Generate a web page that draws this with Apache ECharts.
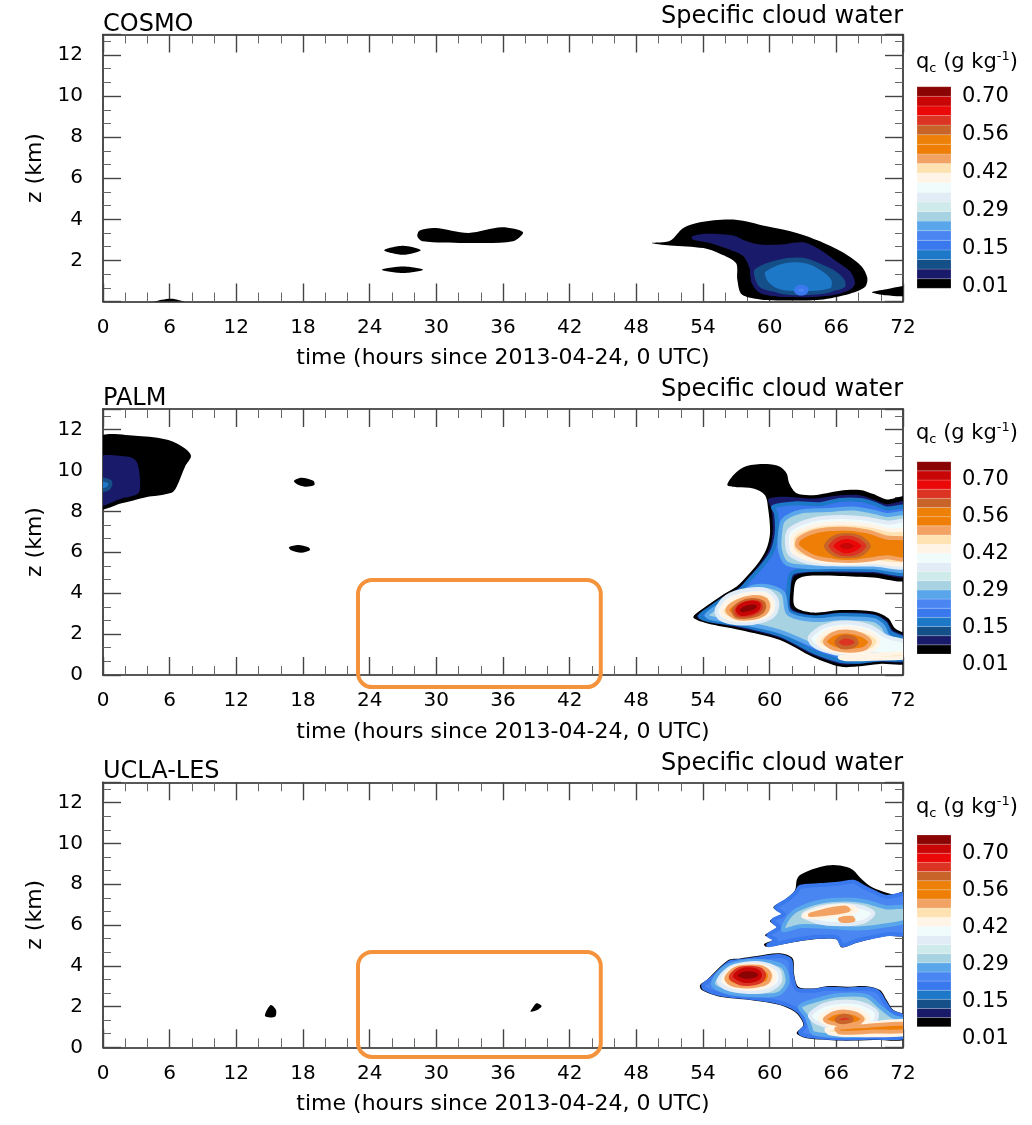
<!DOCTYPE html>
<html style="height: 100%">

<head>
	<meta charset="utf-8">
</head>

<body style="height: 100%; margin: 0; background: #ffffff">
	<div id="container" style="width: 1032px; height: 1125px"></div>
	<script type="text/javascript" src="https://cdn.jsdelivr.net/npm/echarts@6.0.0/dist/echarts.min.js"></script>
	<script type="text/javascript">
		// colour of each q_c band, bottom (0.01) to top (0.70+)
		let levelColors = ['#000000', '#1a1a6a', '#154f88', '#1e78c8', '#3a78ee', '#4a86f2', '#5aa6ea',
			'#a6d2e2', '#cfeaea', '#e2ecf6', '#f0fcfc', '#fff4e6', '#ffe2b2', '#f2a262', '#ee7e06',
			'#ec8008', '#c8642a', '#dc3422', '#ea0808', '#c80606', '#8a0404'];
		let levelLabels = ['0.01', '0.15', '0.29', '0.42', '0.56', '0.70'];
		let panelNames = ['COSMO', 'PALM', 'UCLA-LES'];

		// filled contour rings: lev = band index, pts = [time (h), z (km)]
		let cosmoRings = [
			{ lev: 0, pts: [[4.2, -0.1], [5.3, 0.08], [6.4, 0.12], [7.6, -0.1]] },
			{ lev: 0, pts: [[25.3, 2.5], [27.0, 2.72], [28.6, 2.5], [27.0, 2.28]] },
			{ lev: 0, pts: [[25.1, 1.55], [27.0, 1.71], [28.8, 1.55], [27.0, 1.39]] },
			{ lev: 0, pts: [[28.3, 3.17], [28.5, 3.46], [29.9, 3.58], [32.9, 3.34], [35.9, 3.61], [37.8, 3.37], [36.9, 2.93], [32.7, 2.85], [28.8, 2.93]] },
			{ lev: 0, pts: [[49.38, 2.85], [51.03, 2.96], [52.23, 3.58], [53.73, 3.86], [56.73, 3.99], [59.73, 3.66], [62.43, 3.34], [64.53, 2.93], [66.93, 2.28], [68.28, 1.71], [68.79, 1.14], [68.58, 0.70], [67.23, 0.38], [64.53, 0.08], [62.13, 0.05], [59.13, 0.1], [57.48, 0.35], [57.09, 1.06], [56.97, 1.87], [55.53, 2.33], [54.03, 2.60], [51.03, 2.73]] },
			{ lev: 1, pts: [[52.98, 3.17], [54.33, 3.30], [56.73, 3.21], [57.93, 2.93], [59.13, 2.77], [60.93, 2.77], [63.03, 2.88], [64.53, 2.52], [66.03, 1.95], [67.23, 1.47], [67.68, 0.90], [67.23, 0.57], [65.73, 0.33], [63.33, 0.21], [60.63, 0.25], [59.13, 0.41], [58.38, 0.90], [58.23, 1.55], [57.63, 2.20], [56.43, 2.52], [54.63, 2.85], [53.13, 3.01]] },
			{ lev: 2, pts: [[58.53, 1.63], [60.63, 2.12], [63.03, 2.23], [64.53, 1.95], [66.03, 1.55], [66.93, 1.06], [66.93, 0.65], [65.73, 0.41], [63.33, 0.33], [60.93, 0.33], [59.13, 0.57], [58.53, 1.06]] },
			{ lev: 3, pts: [[59.43, 1.47], [61.23, 1.95], [63.33, 1.95], [64.83, 1.55], [65.73, 1.06], [65.58, 0.57], [63.33, 0.41], [60.93, 0.49], [59.73, 0.90]] },
			{ lev: 5, pts: [[62.37, 0.54], [62.58, 0.70], [63.09, 0.70], [63.33, 0.57], [63.09, 0.41], [62.58, 0.41]] },
			{ lev: 0, pts: [[69.2, 0.45], [70.5, 0.6], [72.5, 0.75], [72.5, 0.3], [70.5, 0.3]] }
		];

		let palmRings = [
			{ lev: 0, pts: [[-0.5, 11.56], [3.18, 11.68], [5.88, 11.48], [7.38, 11.07], [7.92, 10.70], [7.38, 10.18], [6.63, 9.20], [6.18, 8.91], [3.78, 8.68], [1.68, 8.39], [-0.5, 8.14]] },
			{ lev: 1, pts: [[-0.5, 10.59], [2.28, 10.67], [3.03, 10.42], [3.33, 9.53], [3.18, 8.88], [1.68, 8.63], [-0.5, 8.30]] },
			{ lev: 3, pts: [[-0.5, 9.53], [0.63, 9.45], [0.48, 9.12], [-0.5, 9.04]] },
			{ lev: 0, pts: [[17.19, 9.49], [17.88, 9.64], [18.93, 9.49], [19.02, 9.28], [18.18, 9.20], [17.43, 9.33]] },
			{ lev: 0, pts: [[16.74, 6.24], [17.58, 6.35], [18.48, 6.24], [18.63, 6.11], [17.88, 5.98], [16.98, 6.08]] },
			{ lev: 0, pts: [[56.19, 9.28], [56.88, 9.85], [57.93, 10.21], [59.73, 10.31], [60.93, 10.18], [61.53, 9.85], [61.77, 9.36], [62.43, 8.88], [63.93, 8.79], [66.33, 9.01], [68.13, 9.04], [69.33, 8.84], [70.53, 8.58], [72.5, 8.68], [72.5, 4.72], [69.33, 4.77], [66.33, 4.84], [63.33, 4.84], [62.43, 4.64], [62.19, 4.15], [62.28, 3.34], [63.93, 3.05], [66.33, 3.18], [69.33, 3.10], [70.68, 2.77], [71.28, 2.28], [72.5, 1.87], [72.5, 0.61], [69.93, 0.54], [67.83, 0.41], [66.33, 0.41], [63.93, 0.87], [60.93, 1.71], [57.33, 2.20], [54.33, 2.53], [53.13, 2.82], [54.03, 3.26], [55.53, 3.83], [57.03, 4.32], [57.93, 4.81], [58.83, 5.37], [59.67, 6.11], [60.03, 6.92], [59.88, 8.06], [59.58, 8.79], [58.53, 9.12], [57.03, 9.17]] },
			{ lev: 1, pts: [[59.88, 8.58], [60.93, 8.71], [62.43, 8.68], [63.93, 8.63], [66.33, 8.79], [68.13, 8.79], [69.33, 8.58], [70.53, 8.35], [72.5, 8.42], [72.5, 4.89], [69.33, 4.97], [66.33, 5.00], [63.33, 5.00], [62.19, 4.81], [61.89, 4.15], [61.98, 3.26], [63.93, 2.93], [66.33, 3.05], [69.33, 2.98], [70.53, 2.66], [71.07, 2.20], [72.5, 1.79], [72.5, 0.70], [69.93, 0.65], [67.83, 0.54], [66.33, 0.54], [63.93, 0.98], [60.93, 1.81], [57.33, 2.30], [54.33, 2.61], [53.43, 2.85], [54.33, 3.26], [55.68, 3.78], [57.18, 4.24], [58.08, 4.76], [58.98, 5.33], [59.88, 6.06], [60.27, 6.92], [60.18, 8.06]] },
			{ lev: 4, pts: [[60.33, 8.22], [62.43, 8.39], [64.53, 8.35], [66.33, 8.55], [68.13, 8.55], [69.33, 8.39], [70.53, 8.14], [72.5, 8.14], [72.5, 5.05], [69.33, 5.13], [66.33, 5.16], [63.33, 5.13], [61.98, 4.97], [61.68, 4.15], [61.77, 3.14], [63.93, 2.82], [66.33, 2.93], [69.33, 2.85], [70.38, 2.53], [70.89, 2.07], [72.5, 1.63], [72.5, 0.82], [69.93, 0.77], [67.83, 0.65], [66.33, 0.70], [63.93, 1.14], [60.93, 1.96], [57.33, 2.45], [54.48, 2.69], [53.73, 2.88], [54.63, 3.26], [55.83, 3.70], [57.33, 4.15], [58.23, 4.68], [59.19, 5.25], [60.18, 5.98], [60.63, 6.92], [60.57, 7.90]] },
			{ lev: 7, pts: [[60.93, 6.92], [61.23, 7.57], [62.73, 7.98], [65.13, 8.06], [67.53, 8.14], [69.33, 7.98], [70.53, 7.82], [72.5, 7.82], [72.5, 5.21], [69.33, 5.26], [66.33, 5.28], [63.33, 5.28], [61.53, 5.45], [60.93, 6.11]] },
			{ lev: 7, pts: [[55.53, 3.42], [57.33, 3.96], [58.53, 4.32], [60.03, 4.32], [61.23, 3.99], [61.68, 3.01], [63.93, 2.69], [66.33, 2.77], [69.33, 2.69], [70.23, 2.36], [70.68, 1.87], [72.5, 1.47], [72.5, 0.93], [69.33, 0.90], [66.93, 0.90], [64.53, 1.30], [60.93, 2.12], [57.33, 2.56], [54.78, 2.77], [54.33, 2.93]] },
			{ lev: 10, pts: [[61.55, 6.60], [61.85, 7.12], [63.93, 7.60], [66.33, 7.72], [68.73, 7.64], [70.53, 7.45], [72.5, 7.45], [72.5, 5.36], [69.33, 5.40], [66.33, 5.40], [63.63, 5.50], [61.85, 5.90]] },
			{ lev: 10, pts: [[55.23, 3.18], [56.13, 3.83], [57.93, 4.15], [59.73, 4.15], [60.63, 3.67], [60.48, 3.01], [59.13, 2.61], [57.03, 2.53], [55.53, 2.77]] },
			{ lev: 10, pts: [[63.63, 1.87], [64.83, 2.36], [66.93, 2.56], [69.03, 2.36], [70.53, 1.87], [72.5, 1.55], [72.5, 0.98], [69.33, 1.03], [66.93, 0.98], [64.83, 1.22], [63.78, 1.55]] },
			{ lev: 12, pts: [[62.0, 6.3], [62.2, 6.85], [64.1, 7.3], [66.6, 7.42], [69.0, 7.3], [70.8, 7.08], [72.5, 7.0], [72.5, 5.5], [69.3, 5.52], [66.6, 5.47], [63.8, 5.62], [62.3, 5.95]] },
			{ lev: 12, pts: [[55.68, 3.18], [56.58, 3.70], [58.23, 3.96], [59.73, 3.91], [60.27, 3.50], [60.03, 3.01], [58.83, 2.72], [57.03, 2.69], [55.98, 2.85]] },
			{ lev: 12, pts: [[64.38, 1.71], [65.43, 2.17], [66.93, 2.28], [68.73, 2.12], [69.78, 1.71], [69.33, 1.26], [67.53, 1.09], [65.43, 1.22], [64.53, 1.47]] },
			{ lev: 12, pts: [[66.33, 0.87], [69.33, 0.98], [72.5, 1.06], [72.5, 0.87], [69.33, 0.80], [66.93, 0.77]] },
			{ lev: 14, pts: [[62.5, 6.3], [62.65, 6.65], [64.3, 7.05], [66.6, 7.15], [68.8, 7.02], [70.5, 6.72], [72.5, 6.6], [72.5, 5.68], [70.5, 5.75], [68.7, 5.62], [66.6, 5.58], [64.1, 5.75]] },
			{ lev: 14, pts: [[56.19, 3.18], [57.03, 3.58], [58.38, 3.80], [59.58, 3.70], [59.88, 3.34], [59.49, 2.98], [58.23, 2.77], [56.88, 2.82]] },
			{ lev: 14, pts: [[64.98, 1.63], [65.73, 2.01], [66.93, 2.12], [68.28, 1.96], [69.03, 1.63], [68.58, 1.30], [67.23, 1.19], [65.73, 1.30]] },
			{ lev: 16, pts: [[64.7, 6.3], [65.4, 6.82], [66.9, 6.95], [68.4, 6.8], [69.3, 6.3], [68.4, 5.82], [66.9, 5.72], [65.4, 5.84]] },
			{ lev: 17, pts: [[65.1, 6.30], [65.8, 6.72], [66.93, 6.84], [68.2, 6.7], [68.9, 6.30], [68.2, 5.9], [66.93, 5.8], [65.8, 5.9]] },
			{ lev: 17, pts: [[56.73, 3.14], [57.33, 3.50], [58.38, 3.67], [59.37, 3.54], [59.49, 3.26], [58.98, 2.98], [57.93, 2.85], [57.03, 2.88]] },
			{ lev: 17, pts: [[66.03, 1.63], [66.48, 1.84], [67.08, 1.87], [67.68, 1.75], [67.83, 1.55], [67.38, 1.39], [66.63, 1.35], [66.18, 1.47]] },
			{ lev: 18, pts: [[65.55, 6.30], [66.1, 6.62], [66.95, 6.72], [67.9, 6.6], [68.45, 6.30], [67.9, 6.0], [66.95, 5.9], [66.1, 6.0]] },
			{ lev: 18, pts: [[56.97, 3.14], [57.48, 3.44], [58.38, 3.57], [59.13, 3.50], [59.19, 3.26], [58.68, 3.05], [57.87, 2.93], [57.18, 2.95]] },
			{ lev: 19, pts: [[66.1, 6.30], [66.5, 6.5], [67.2, 6.53], [67.8, 6.32], [67.4, 6.1], [66.6, 6.07]] },
			{ lev: 20, pts: [[57.12, 3.18], [57.63, 3.44], [58.47, 3.54], [59.01, 3.44], [58.89, 3.21], [58.29, 3.05], [57.48, 2.98]] }
		];

		let uclaRings = [
			{ lev: 0, pts: [[15.09, 2.07], [15.57, 1.83], [15.48, 1.50], [14.58, 1.53]] },
			{ lev: 0, pts: [[39.03, 2.16], [39.48, 2.02], [39.18, 1.86], [38.49, 1.75], [38.67, 1.94]] },
			{ lev: 0, pts: [[62.73, 8.45], [63.63, 8.69], [64.53, 8.85], [65.73, 8.94], [66.93, 8.85], [67.53, 8.69], [68.13, 8.33], [69.03, 7.91], [70.23, 7.63], [71.13, 7.51], [72.5, 7.63], [72.5, 5.55], [70.53, 5.46], [69.33, 5.34], [67.83, 5.13], [66.48, 4.90], [66.03, 5.29], [64.53, 5.32], [62.43, 5.18], [59.73, 4.93], [59.49, 5.06], [60.33, 5.29], [59.58, 5.50], [60.63, 5.88], [60.03, 6.21], [61.08, 6.53], [60.33, 6.86], [61.38, 7.25], [62.28, 7.71], [62.43, 8.20]] },
			{ lev: 5, pts: [[62.73, 7.87], [64.53, 7.96], [66.33, 8.04], [67.53, 8.12], [68.43, 7.87], [69.33, 7.63], [70.53, 7.38], [72.5, 7.47], [72.5, 5.65], [70.53, 5.55], [69.33, 5.42], [67.83, 5.23], [66.57, 5.01], [66.09, 5.39], [64.53, 5.42], [62.43, 5.29], [59.88, 5.01], [60.57, 5.26], [59.88, 5.50], [60.87, 5.88], [60.27, 6.21], [61.29, 6.53], [60.57, 6.86], [61.59, 7.22], [62.43, 7.63]] },
			{ lev: 7, pts: [[61.53, 6.24], [62.43, 6.73], [64.53, 7.14], [66.93, 7.25], [68.73, 7.14], [70.53, 6.86], [72.5, 6.86], [72.5, 6.24], [69.93, 5.94], [67.83, 5.83], [65.13, 5.91], [62.73, 5.94], [61.23, 5.75]] },
			{ lev: 10, pts: [[63.03, 6.49], [64.53, 6.86], [66.63, 6.98], [68.43, 6.86], [69.33, 6.57], [68.43, 6.16], [66.33, 6.04], [64.23, 6.16]] },
			{ lev: 12, pts: [[63.03, 6.44], [65.13, 6.86], [67.23, 6.92], [67.83, 6.70], [66.33, 6.49], [64.53, 6.37]] },
			{ lev: 14, pts: [[63.63, 6.49], [65.13, 6.73], [66.78, 6.86], [67.08, 6.73], [65.43, 6.57]] },
			{ lev: 14, pts: [[66.33, 6.29], [67.38, 6.35], [67.53, 6.24], [66.48, 6.21]] },
			{ lev: 0, pts: [[53.73, 3.05], [54.33, 3.30], [56.28, 4.28], [57.33, 4.36], [58.83, 4.48], [60.93, 4.61], [62.07, 4.36], [62.19, 3.63], [62.58, 2.97], [63.93, 2.89], [65.13, 3.00], [66.93, 2.97], [68.73, 3.00], [69.93, 2.81], [70.53, 2.32], [71.13, 1.83], [72.5, 1.50], [72.5, 0.44], [69.33, 0.36], [66.33, 0.33], [63.33, 0.44], [62.43, 0.69], [63.03, 1.09], [62.43, 1.66], [60.93, 2.07], [58.23, 2.32], [55.53, 2.48], [53.88, 2.81]] },
			{ lev: 5, pts: [[54.03, 3.05], [54.63, 3.30], [56.37, 4.15], [57.33, 4.23], [58.83, 4.34], [60.78, 4.48], [61.83, 4.28], [61.98, 3.59], [62.43, 2.84], [63.93, 2.78], [65.13, 2.87], [66.93, 2.84], [68.73, 2.87], [69.75, 2.71], [70.32, 2.24], [70.98, 1.75], [72.5, 1.39], [72.5, 0.55], [69.33, 0.47], [66.33, 0.44], [63.48, 0.55], [62.73, 0.72], [63.27, 1.09], [62.61, 1.76], [60.93, 2.19], [58.23, 2.43], [55.53, 2.60], [54.12, 2.89]] },
			{ lev: 7, pts: [[54.9, 3.10], [55.8, 3.85], [57.5, 4.20], [59.5, 4.22], [61.2, 3.95], [61.6, 3.2], [60.8, 2.62], [58.5, 2.55], [56.2, 2.7]] },
			{ lev: 10, pts: [[55.4, 3.25], [56.3, 3.85], [57.8, 4.10], [59.6, 4.08], [60.8, 3.75], [60.9, 3.2], [59.9, 2.8], [57.8, 2.72], [56.1, 2.9]] },
			{ lev: 12, pts: [[55.8, 3.33], [56.6, 3.85], [58.0, 4.02], [59.5, 3.98], [60.4, 3.65], [60.3, 3.2], [59.3, 2.92], [57.6, 2.88], [56.3, 3.05]] },
			{ lev: 14, pts: [[56.1, 3.4], [56.9, 3.85], [58.2, 3.96], [59.4, 3.9], [60.0, 3.6], [59.8, 3.2], [58.8, 3.02], [57.5, 3.0], [56.5, 3.12]] },
			{ lev: 18, pts: [[56.5, 3.45], [57.2, 3.82], [58.3, 3.9], [59.2, 3.8], [59.5, 3.55], [59.2, 3.25], [58.3, 3.12], [57.3, 3.15]] },
			{ lev: 20, pts: [[56.9, 3.5], [57.5, 3.78], [58.4, 3.82], [59.0, 3.7], [59.1, 3.48], [58.6, 3.3], [57.6, 3.28]] },
			{ lev: 7, pts: [[62.73, 1.99], [64.23, 2.32], [66.33, 2.56], [68.73, 2.51], [69.93, 1.99], [71.13, 1.50], [72.5, 1.26], [72.5, 0.69], [69.33, 0.60], [66.33, 0.55], [63.93, 0.69], [63.63, 1.01], [63.33, 1.50]] },
			{ lev: 10, pts: [[63.63, 1.58], [64.83, 2.07], [66.63, 2.24], [68.43, 2.12], [69.63, 1.70], [69.33, 1.17], [67.53, 0.93], [65.43, 1.01], [64.08, 1.26]] },
			{ lev: 12, pts: [[65.13, 0.88], [68.73, 1.14], [72.5, 1.26], [72.5, 0.69], [67.53, 0.60], [65.43, 0.69]] },
			{ lev: 12, pts: [[64.53, 1.42], [65.43, 1.79], [66.78, 1.91], [68.13, 1.79], [68.88, 1.42], [68.28, 1.09], [66.63, 1.01], [65.13, 1.14]] },
			{ lev: 14, pts: [[64.98, 1.37], [65.73, 1.66], [66.78, 1.75], [67.83, 1.63], [68.37, 1.37], [67.83, 1.17], [66.63, 1.11], [65.43, 1.21]] },
			{ lev: 14, pts: [[66.03, 0.93], [68.73, 1.05], [72.5, 1.14], [72.5, 0.82], [69.33, 0.77], [66.33, 0.72]] },
			{ lev: 17, pts: [[66.03, 1.39], [66.57, 1.54], [67.17, 1.50], [67.38, 1.34], [66.78, 1.24], [66.18, 1.27]] }
		];

		// highlighted windows [t0, z0, t1, z1]
		let palmBoxes = [[22.95, 4.64, 44.8, -0.59]];
		let uclaBoxes = [[22.95, 4.67, 44.8, -0.47]];

		const FONT = 'DejaVu Sans';
		let dom = document.getElementById('container');
		let myChart = echarts.init(dom, null, { renderer: 'canvas' });

		let panels = [
			{ top: 34.5, height: 267, rings: cosmoRings, boxes: [], showZero: false },
			{ top: 409, height: 266, rings: palmRings, boxes: palmBoxes, showZero: true },
			{ top: 782.3, height: 265, rings: uclaRings, boxes: uclaBoxes, showZero: true }
		];
		let bars = [
			{ top: 86.7, bottom: 288.3, labTop: 96.7, labBottom: 287, titleTop: 50, nameTop: 5, modelTop: 13 },
			{ top: 461.7, bottom: 654, labTop: 480, labBottom: 665, titleTop: 421, nameTop: 378, modelTop: 387 },
			{ top: 835, bottom: 1026.7, labTop: 854, labBottom: 1038.3, titleTop: 795, nameTop: 752, modelTop: 760 }
		];

		let grid = [], xAxis = [], yAxis = [], series = [], title = [];
		let axisLine = { onZero: false, lineStyle: { color: '#222', width: 1.6 } };

		// grids 0-2: panels, 3-5: colour bar boxes, 6-8: colour bar labels
		panels.forEach(function (p) {
			grid.push({ left: 103, width: 800, top: p.top, height: p.height });
		});
		bars.forEach(function (b) {
			grid.push({ left: 917, width: 34, top: b.top, height: b.bottom - b.top });
		});
		bars.forEach(function (b) {
			grid.push({ left: 917, width: 34, top: b.labTop, height: b.labBottom - b.labTop });
		});

		let tickStyle = { inside: true, length: 18, lineStyle: { color: '#444', width: 1.4 } };
		let minorX = { show: true, splitNumber: 3, length: 9, lineStyle: { color: '#666', width: 1 } };
		let minorY = { show: true, splitNumber: 3, length: 8, lineStyle: { color: '#666', width: 1 } };

		// x axes 0-2 bottom, 3-5 top
		panels.forEach(function (p, i) {
			xAxis.push({
				gridIndex: i, type: 'value', min: 0, max: 72, interval: 6, position: 'bottom',
				name: 'time (hours since 2013-04-24, 0 UTC)', nameLocation: 'middle', nameGap: 46,
				nameTextStyle: { fontSize: 22, color: '#000', fontFamily: FONT },
				axisLine: axisLine, axisTick: tickStyle, minorTick: minorX,
				axisLabel: { fontSize: 20, color: '#000', fontFamily: FONT, margin: 16 },
				splitLine: { show: false }
			});
		});
		panels.forEach(function (p, i) {
			xAxis.push({
				gridIndex: i, type: 'value', min: 0, max: 72, interval: 6, position: 'top',
				axisLine: axisLine, axisTick: tickStyle, minorTick: minorX,
				axisLabel: { show: false }, splitLine: { show: false }
			});
		});
		// y axes 0-2 left, 3-5 right
		panels.forEach(function (p, i) {
			yAxis.push({
				gridIndex: i, type: 'value', min: 0, max: 13, interval: 2, position: 'left',
				name: 'z (km)', nameLocation: 'middle', nameGap: 54,
				nameTextStyle: { fontSize: 22, color: '#000', fontFamily: FONT },
				axisLine: axisLine, axisTick: tickStyle, minorTick: minorY,
				axisLabel: { fontSize: 20, color: '#000', fontFamily: FONT, margin: 20, showMinLabel: p.showZero, showMaxLabel: false },
				splitLine: { show: false }
			});
		});
		panels.forEach(function (p, i) {
			yAxis.push({
				gridIndex: i, type: 'value', min: 0, max: 13, interval: 2, position: 'right',
				axisLine: axisLine, axisTick: tickStyle, minorTick: minorY,
				axisLabel: { show: false }, splitLine: { show: false }
			});
		});
		// axes 6-8: colour bar boxes
		bars.forEach(function (b, i) {
			xAxis.push({ gridIndex: 3 + i, type: 'value', min: 0, max: 1, show: false });
			yAxis.push({ gridIndex: 3 + i, type: 'value', min: 0, max: levelColors.length, show: false });
		});
		// axes 9-11: colour bar labels
		bars.forEach(function (b, i) {
			xAxis.push({ gridIndex: 6 + i, type: 'value', min: 0, max: 1, show: false });
			yAxis.push({
				gridIndex: 6 + i, type: 'value', min: 0, max: levelLabels.length - 1, interval: 1, position: 'right',
				axisLine: { show: false }, axisTick: { show: false }, splitLine: { show: false },
				axisLabel: {
					fontSize: 21, color: '#000', fontFamily: FONT, margin: 11,
					formatter: function (v) { return levelLabels[v]; }
				}
			});
		});

		// contour fills; each band edge gets a thin rim of the band just below it
		panels.forEach(function (p, i) {
			let rings = p.rings;
			series.push({
				type: 'custom',
				xAxisIndex: i, yAxisIndex: i,
				clip: true, silent: true,
				data: rings.map(function (r, k) { return [r.pts[0][0], r.pts[0][1], k]; }),
				renderItem: function (params, api) {
					let r = rings[params.dataIndex];
					let pts = r.pts.map(function (pt) { return api.coord(pt); });
					let rim = r.lev >= 2 ? levelColors[r.lev - 1] : null;
					return {
						type: 'polygon',
						shape: { points: pts, smooth: 0.3, smoothConstraint: false },
						style: { fill: levelColors[r.lev], stroke: rim, lineWidth: rim ? 4 : 0 }
					};
				}
			});
			if (p.boxes.length) {
				series.push({
					type: 'custom',
					xAxisIndex: i, yAxisIndex: i,
					clip: false, silent: true, z: 10,
					data: p.boxes,
					encode: { x: [0, 2], y: [1, 3] },
					renderItem: function (params, api) {
						let a = api.coord([api.value(0), api.value(1)]);
						let c = api.coord([api.value(2), api.value(3)]);
						return {
							type: 'rect',
							shape: { x: a[0], y: a[1], width: c[0] - a[0], height: c[1] - a[1], r: 14 },
							style: { fill: null, stroke: '#f4933c', lineWidth: 4 }
						};
					}
				});
			}
		});

		// colour bars
		bars.forEach(function (b, i) {
			series.push({
				type: 'custom',
				xAxisIndex: 6 + i, yAxisIndex: 6 + i,
				silent: true,
				data: levelColors.map(function (c, k) { return [0.5, k + 0.5]; }),
				renderItem: function (params, api) {
					let k = params.dataIndex;
					let a = api.coord([0, k + 1]);
					let c = api.coord([1, k]);
					return {
						type: 'rect',
						shape: { x: a[0], y: a[1], width: c[0] - a[0], height: c[1] - a[1] },
						style: { fill: levelColors[k], stroke: 'rgba(255,255,255,0.3)', lineWidth: 0.6 }
					};
				}
			});
		});

		let richText = { fontSize: 21, color: '#000', fontFamily: FONT, fontWeight: 'normal' };
		bars.forEach(function (b, i) {
			title.push({
				text: 'Specific cloud water', right: 129, top: b.nameTop, padding: 0,
				textStyle: { fontSize: 24, fontWeight: 'normal', color: '#000', fontFamily: FONT }
			});
			title.push({
				text: panelNames[i], left: 103, top: b.modelTop, padding: 0,
				textStyle: { fontSize: 24, fontWeight: 'normal', color: '#000', fontFamily: FONT }
			});
			title.push({
				text: '{a|q}{b|c}{a| (g kg}{c|-1}{a|)}', left: 916, top: b.titleTop, padding: 0,
				textStyle: {
					fontFamily: FONT, fontWeight: 'normal',
					rich: {
						a: richText,
						b: { fontSize: 13, color: '#000', fontFamily: FONT, fontWeight: 'normal', padding: [12, 0, 0, 0] },
						c: { fontSize: 13, color: '#000', fontFamily: FONT, fontWeight: 'normal', padding: [0, 0, 12, 0] }
					}
				}
			});
		});

		let option = {
			animation: false,
			backgroundColor: '#ffffff',
			textStyle: { fontFamily: FONT },
			title: title,
			grid: grid,
			xAxis: xAxis,
			yAxis: yAxis,
			series: series
		};
		myChart.setOption(option);
	</script>
</body>
</html>
